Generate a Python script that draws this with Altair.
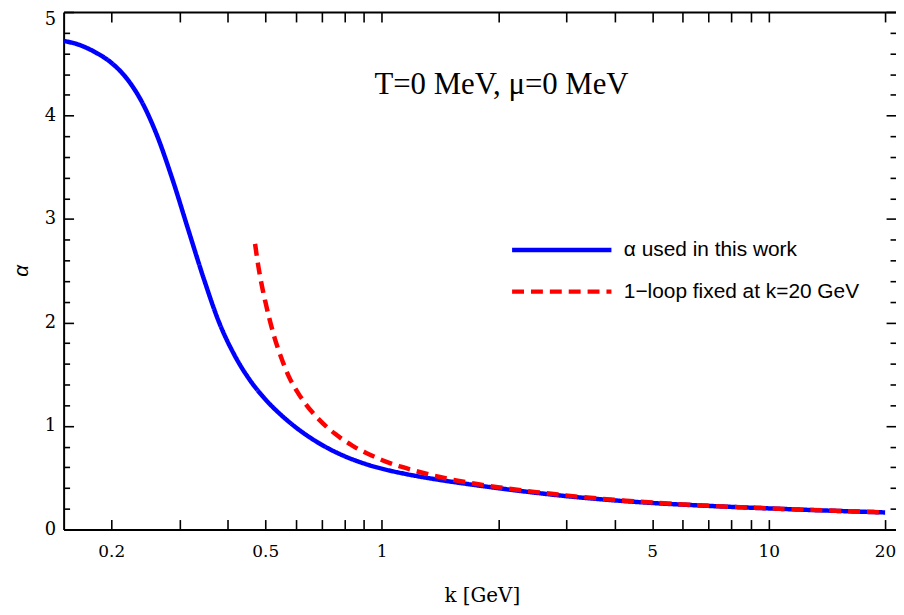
import altair as alt
import pandas as pd

# ---- data ----
k_used = [0.151, 0.166, 0.182, 0.200, 0.219, 0.240, 0.263, 0.288, 0.316, 0.347, 0.380,
          0.417, 0.457, 0.501, 0.550, 0.603, 0.661, 0.724, 0.794, 0.871, 0.955, 1.047,
          1.148, 1.259, 1.413, 1.585, 1.778, 1.995, 2.239, 2.512, 2.818, 3.162, 3.981,
          5.012, 6.310, 7.943, 10.0, 14.13, 20.0]
alpha_used = [4.72, 4.68, 4.61, 4.51, 4.36, 4.13, 3.80, 3.38, 2.90, 2.42, 2.00,
              1.68, 1.44, 1.255, 1.105, 0.98, 0.875, 0.788, 0.715, 0.656, 0.608, 0.57,
              0.538, 0.51, 0.479, 0.451, 0.425, 0.40, 0.376, 0.354, 0.333, 0.314, 0.282,
              0.256, 0.236, 0.219, 0.204, 0.183, 0.165]

k_loop = [0.4706, 0.4786, 0.4898, 0.501, 0.513, 0.525, 0.537, 0.550, 0.575, 0.603,
          0.631, 0.661, 0.692, 0.724, 0.759, 0.794, 0.832, 0.871, 0.912, 0.955, 1.0,
          1.122, 1.259, 1.413, 1.585, 1.778, 1.995, 2.239, 2.512, 2.818, 3.162, 3.981,
          5.012, 6.310, 7.943, 10.0, 14.13, 20.0]
alpha_loop = [2.76, 2.57, 2.36, 2.19, 2.03, 1.89, 1.77, 1.66, 1.48, 1.34,
              1.23, 1.135, 1.055, 0.985, 0.922, 0.868, 0.82, 0.776, 0.74, 0.705, 0.672,
              0.607, 0.553, 0.507, 0.469, 0.437, 0.409, 0.384, 0.361, 0.34, 0.32, 0.287,
              0.26, 0.238, 0.22, 0.205, 0.184, 0.165]

series_names = ["α used in this work", "1−loop fixed at k=20 GeV"]
series_colors = ["#0000ff", "#ff0000"]
series_dashes = [[1, 0], [12, 7]]

x_label_values = [0.2, 0.5, 1, 5, 10, 20]
x_tick_values = [0.2, 0.3, 0.4, 0.5, 0.6, 0.7, 0.8, 0.9, 1, 2, 3, 4, 5, 6, 7, 8, 9, 10, 20]
y_major = [0, 1, 2, 3, 4, 5]
y_minor = [round(0.2 * i, 1) for i in range(1, 25) if i % 5]

annotation_text = ["T=0 MeV, μ=0 MeV"]
annotation_k = [2.04]
annotation_alpha = [4.21]

# ---- tables ----
curves = pd.concat([
    pd.DataFrame({"k": k_used, "alpha": alpha_used, "series": series_names[0]}),
    pd.DataFrame({"k": k_loop, "alpha": alpha_loop, "series": series_names[1]}),
], ignore_index=True)
annot = pd.DataFrame({"k": annotation_k, "alpha": annotation_alpha, "label": annotation_text})

W, H = 838, 521
xscale = alt.Scale(type="log", domain=[0.1506, 21.34], nice=False)
yscale = alt.Scale(domain=[0, 5], nice=False)

LBL_FONT = "DejaVu Serif"


def tick_axis(orient, values, size):
    return alt.Axis(orient=orient, values=values, labels=False, domain=False, ticks=True,
                    tickSize=size, tickWidth=1.6, tickColor="black", offset=-size,
                    title=None, grid=False)


def X(axis):
    return alt.X("k:Q", scale=xscale, axis=axis)


def Y(axis):
    return alt.Y("alpha:Q", scale=yscale, axis=axis)


x_main = alt.Axis(orient="bottom", values=x_label_values, format="~g", ticks=False, tickSize=0,
                  labelPadding=14, labelFont=LBL_FONT, labelFontSize=17, labelColor="black",
                  labelFlush=False, labelOverlap=False,
                  domain=True, domainColor="black", domainWidth=2, grid=False,
                  title="k [GeV]", titleFont=LBL_FONT, titleFontSize=20, titleFontWeight="normal",
                  titleColor="black", titleX=421, titleY=72, titleAlign="center",
                  titleBaseline="alphabetic")
y_main = alt.Axis(orient="left", values=y_major[:-1], format="d", ticks=False, tickSize=0,
                  labelPadding=8, labelFont=LBL_FONT, labelFontSize=18, labelColor="black",
                  labelFlush=False, labelOverlap=False,
                  domain=True, domainColor="black", domainWidth=2, grid=False,
                  title="α", titleFont="Liberation Sans", titleFontStyle="italic",
                  titleFontSize=21, titleFontWeight="normal", titleColor="black",
                  titleX=-36, titleY=260, titleAlign="center", titleBaseline="alphabetic",
                  titleAngle=270)
y_top_label = alt.Axis(orient="left", values=y_major[-1:], format="d", ticks=False, tickSize=0,
                       labelPadding=8, labelFont=LBL_FONT, labelFontSize=18, labelColor="black",
                       labelFlush=False, labelOverlap=False, labelBaseline="top",
                       labelOffset=-1, domain=False, grid=False, title=None)
x_top_domain = alt.Axis(orient="top", values=x_tick_values, labels=False, ticks=False,
                        domain=True, domainColor="black", domainWidth=2, title=None, grid=False)

legend = alt.Legend(orient="none", legendX=491, legendY=229, title=None,
                    symbolType="M-10,0H10", symbolSize=100, symbolStrokeWidth=4.5,
                    labelFont="Liberation Sans", labelFontSize=21, labelColor="black",
                    labelLimit=0, labelOffset=52, padding=0, rowPadding=20)

lines = alt.Chart(curves).mark_line(strokeWidth=4.5, interpolate="monotone").encode(
    x=X(x_main), y=Y(y_main),
    color=alt.Color("series:N", scale=alt.Scale(domain=series_names, range=series_colors),
                    legend=legend, sort=series_names),
    strokeDash=alt.StrokeDash("series:N", scale=alt.Scale(domain=series_names, range=series_dashes),
                              legend=legend, sort=series_names),
    detail="series:N",
)

text = alt.Chart(annot).mark_text(font="Liberation Serif", fontSize=31, align="center",
                                  baseline="alphabetic", color="black").encode(
    x=X(tick_axis("bottom", x_tick_values, 10)),
    y=Y(tick_axis("left", y_major, 10)),
    text="label:N",
)

ghost1 = alt.Chart(curves).mark_line(opacity=0).encode(
    x=X(tick_axis("top", x_tick_values, 10)),
    y=Y(tick_axis("left", y_minor, 6)),
    detail="series:N",
)
ghost2 = alt.Chart(curves).mark_line(opacity=0).encode(
    x=X(x_top_domain),
    y=Y(tick_axis("right", y_major, 10)),
    detail="series:N",
)
ghost3 = alt.Chart(curves).mark_line(opacity=0).encode(
    x=X(None),
    y=Y(tick_axis("right", y_minor, 6)),
    detail="series:N",
)
ghost4 = alt.Chart(curves).mark_line(opacity=0).encode(
    x=X(None),
    y=Y(y_top_label),
    detail="series:N",
)

chart = alt.layer(ghost1, ghost2, ghost3, ghost4, lines, text).resolve_axis(
    x="independent", y="independent"
).properties(
    width=W, height=H,
    autosize=alt.AutoSizeParams(type="none"),
    padding={"left": 56, "top": 2, "right": 0, "bottom": 78},
).configure_view(stroke=None).configure_axis(grid=False)

chart.save("out.html", embed_options={"renderer": "svg", "actions": False})
